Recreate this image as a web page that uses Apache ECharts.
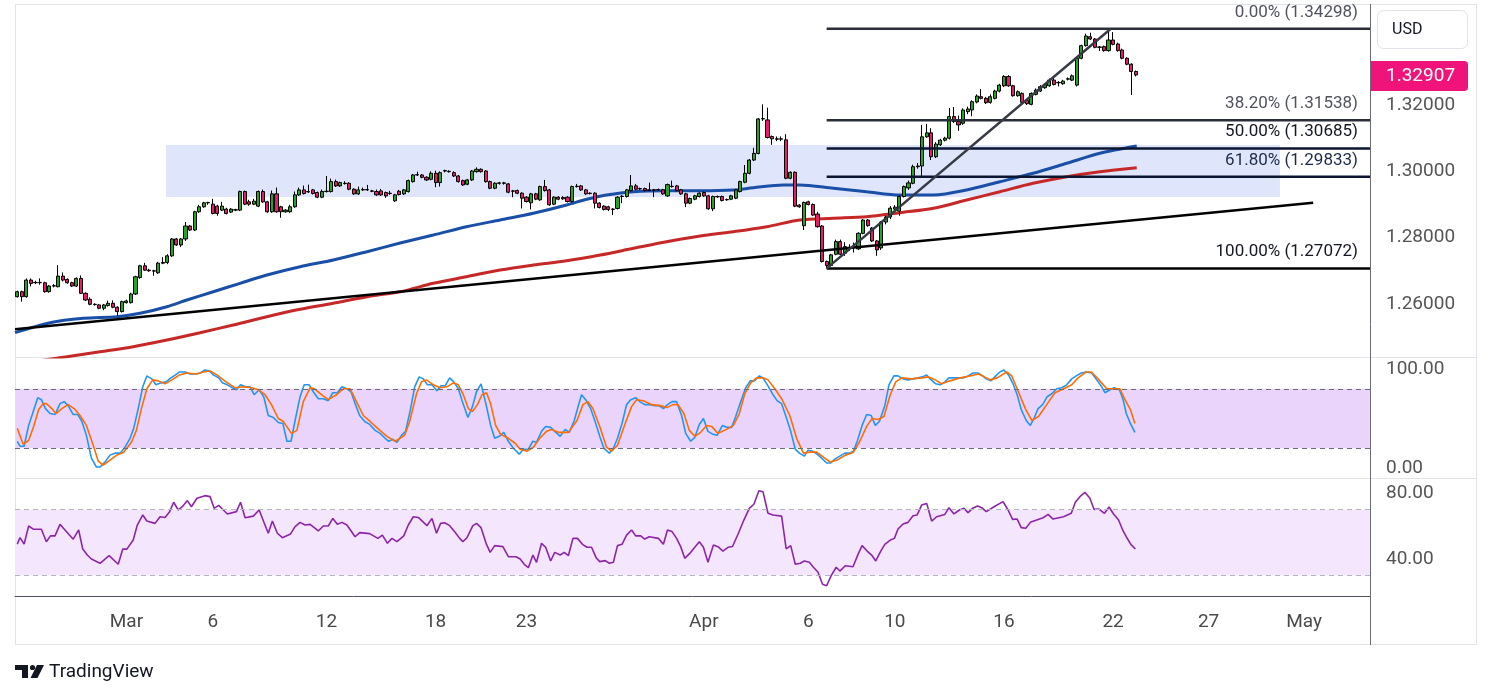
<!DOCTYPE html>
<html>
<head>
<meta charset="utf-8">
<title>GBP/USD 4H</title>
<script src="https://cdn.jsdelivr.net/npm/echarts@6.0.0/dist/echarts.min.js"></script>
<style>
  html, body { margin: 0; padding: 0; background: #fff; }
  #chart { width: 1491px; height: 698px; }
</style>
</head>
<body>
<div id="chart"></div>
<script>
// ---- candles (4H bars) ----
var opens = [
  1.2622,1.2637,1.2622,1.2672,1.2664,1.2665,1.2664,1.2637,1.2654,1.2652,
  1.2684,1.2674,1.2664,1.2654,1.2677,1.2632,1.2614,1.2599,1.2597,1.2587,
  1.2595,1.2602,1.2590,1.2577,1.2604,1.2604,1.2630,1.2680,1.2715,1.2702,
  1.2700,1.2694,1.2723,1.2725,1.2745,1.2796,1.2778,1.2796,1.2835,1.2823,
  1.2878,1.2893,1.2905,1.2901,1.2895,1.2883,1.2886,1.2877,1.2883,1.2883,
  1.2939,1.2908,1.2901,1.2895,1.2939,1.2908,1.2878,1.2932,1.2893,1.2878,
  1.2878,1.2893,1.2929,1.2944,1.2939,1.2944,1.2936,1.2922,1.2939,1.2939,
  1.2969,1.2956,1.2964,1.2964,1.2946,1.2932,1.2944,1.2945,1.2941,1.2939,
  1.2941,1.2936,1.2934,1.2911,1.2940,1.2932,1.2939,1.2969,1.2989,1.2989,
  1.2982,1.2976,1.2994,1.2966,1.3001,1.3000,1.2996,1.2986,1.2972,1.2961,
  1.2974,1.2999,1.3006,1.3001,1.2969,1.2949,1.2964,1.2965,1.2962,1.2941,
  1.2942,1.2934,1.2922,1.2905,1.2932,1.2914,1.2954,1.2944,1.2901,1.2922,
  1.2917,1.2922,1.2909,1.2954,1.2956,1.2944,1.2934,1.2934,1.2904,1.2895,
  1.2893,1.2885,1.2888,1.2924,1.2924,1.2942,1.2956,1.2948,1.2948,1.2944,
  1.2943,1.2944,1.2944,1.2926,1.2955,1.2956,1.2944,1.2932,1.2904,1.2916,
  1.2924,1.2936,1.2926,1.2887,1.2924,1.2924,1.2914,1.2916,1.2919,1.2939,
  1.2967,1.2994,1.3034,1.3054,1.3158,1.3155,1.3105,1.3098,1.3097,1.3095,
  1.2979,1.2997,1.2898,1.2836,1.2908,1.2900,1.2871,1.2835,1.2728,1.2716,
  1.2750,1.2788,1.2753,1.2768,1.2773,1.2766,1.2813,1.2853,1.2829,1.2790,
  1.2769,1.2847,1.2862,1.2886,1.2880,1.2924,1.2950,1.2964,1.3014,1.3016,
  1.3104,1.3116,1.3044,1.3080,1.3094,1.3100,1.3165,1.3150,1.3145,1.3180,
  1.3185,1.3209,1.3225,1.3220,1.3208,1.3220,1.3242,1.3258,1.3286,1.3258,
  1.3228,1.3235,1.3214,1.3202,1.3232,1.3242,1.3252,1.3258,1.3275,1.3268,
  1.3264,1.3278,1.3275,1.3260,1.3341,1.3379,1.3406,1.3399,1.3374,1.3376,
  1.3364,1.3396,1.3384,1.3366,1.3341,1.3323,1.3301
];
var highs = [
  1.2640,1.2640,1.2677,1.2677,1.2670,1.2677,1.2667,1.2657,1.2660,1.2717,
  1.2695,1.2677,1.2667,1.2680,1.2686,1.2635,1.2620,1.2602,1.2600,1.2600,
  1.2610,1.2611,1.2593,1.2610,1.2613,1.2634,1.2685,1.2718,1.2724,1.2706,
  1.2703,1.2727,1.2741,1.2750,1.2799,1.2799,1.2799,1.2847,1.2838,1.2881,
  1.2899,1.2908,1.2908,1.2917,1.2899,1.2908,1.2890,1.2889,1.2887,1.2942,
  1.2942,1.2914,1.2917,1.2942,1.2945,1.2911,1.2942,1.2951,1.2896,1.2886,
  1.2899,1.2939,1.2951,1.2957,1.2960,1.2947,1.2939,1.2945,1.2986,1.2978,
  1.2975,1.2969,1.2970,1.2967,1.2949,1.2954,1.2951,1.2959,1.2944,1.2945,
  1.2947,1.2939,1.2941,1.2932,1.2944,1.2947,1.2975,1.2992,1.2999,1.2992,
  1.2985,1.3000,1.3002,1.3000,1.3005,1.3003,1.3000,1.2989,1.2975,1.2977,
  1.3004,1.3012,1.3009,1.3004,1.2972,1.2967,1.2968,1.2968,1.2965,1.2944,
  1.2945,1.2937,1.2925,1.2935,1.2935,1.2957,1.2974,1.2947,1.2925,1.2925,
  1.2925,1.2925,1.2957,1.2962,1.2959,1.2947,1.2937,1.2937,1.2907,1.2898,
  1.2896,1.2889,1.2925,1.2928,1.2947,1.2989,1.2962,1.2951,1.2951,1.2966,
  1.2947,1.2948,1.2947,1.2963,1.2972,1.2959,1.2947,1.2935,1.2921,1.2929,
  1.2937,1.2939,1.2929,1.2927,1.2927,1.2927,1.2918,1.2929,1.2947,1.2972,
  1.3019,1.3037,1.3071,1.3161,1.3202,1.3192,1.3108,1.3105,1.3105,1.3112,
  1.3000,1.3000,1.2901,1.2909,1.2911,1.2903,1.2878,1.2838,1.2731,1.2751,
  1.2794,1.2794,1.2786,1.2780,1.2785,1.2816,1.2856,1.2856,1.2832,1.2793,
  1.2850,1.2866,1.2895,1.2898,1.2928,1.2957,1.2972,1.3020,1.3025,1.3140,
  1.3143,1.3130,1.3088,1.3098,1.3104,1.3191,1.3194,1.3168,1.3190,1.3195,
  1.3214,1.3232,1.3248,1.3224,1.3232,1.3246,1.3264,1.3290,1.3290,1.3261,
  1.3244,1.3238,1.3218,1.3238,1.3250,1.3260,1.3266,1.3280,1.3282,1.3272,
  1.3276,1.3283,1.3292,1.3344,1.3382,1.3415,1.3418,1.3402,1.3378,1.3379,
  1.342984,1.3420,1.3388,1.3370,1.3344,1.3326,1.3304
];
var lows = [
  1.2619,1.2607,1.2619,1.2653,1.2660,1.2658,1.2634,1.2634,1.2650,1.2650,
  1.2668,1.2661,1.2651,1.2651,1.2630,1.2609,1.2596,1.2595,1.2584,1.2581,
  1.2592,1.2587,1.2564,1.2574,1.2601,1.2601,1.2627,1.2676,1.2700,1.2697,
  1.2685,1.2691,1.2720,1.2720,1.2742,1.2775,1.2772,1.2790,1.2820,1.2820,
  1.2875,1.2890,1.2899,1.2870,1.2866,1.2880,1.2870,1.2874,1.2880,1.2880,
  1.2898,1.2896,1.2898,1.2892,1.2905,1.2875,1.2875,1.2875,1.2860,1.2875,
  1.2875,1.2890,1.2926,1.2930,1.2935,1.2930,1.2919,1.2919,1.2936,1.2936,
  1.2953,1.2953,1.2960,1.2943,1.2929,1.2929,1.2941,1.2941,1.2937,1.2926,
  1.2926,1.2920,1.2929,1.2908,1.2927,1.2929,1.2936,1.2966,1.2986,1.2979,
  1.2971,1.2973,1.2952,1.2954,1.2997,1.2996,1.2983,1.2966,1.2956,1.2958,
  1.2971,1.2996,1.2996,1.2966,1.2946,1.2946,1.2960,1.2960,1.2934,1.2922,
  1.2931,1.2888,1.2906,1.2885,1.2913,1.2911,1.2939,1.2896,1.2898,1.2913,
  1.2914,1.2906,1.2906,1.2951,1.2941,1.2929,1.2930,1.2888,1.2888,1.2882,
  1.2880,1.2868,1.2885,1.2904,1.2921,1.2939,1.2943,1.2944,1.2939,1.2940,
  1.2922,1.2941,1.2929,1.2923,1.2951,1.2939,1.2929,1.2892,1.2901,1.2913,
  1.2921,1.2923,1.2884,1.2880,1.2920,1.2909,1.2911,1.2913,1.2916,1.2936,
  1.2964,1.2991,1.3031,1.3051,1.3152,1.3099,1.3080,1.3091,1.3091,1.2976,
  1.2976,1.2892,1.2890,1.2823,1.2897,1.2865,1.2830,1.2725,1.270723,1.2713,
  1.2747,1.2747,1.2745,1.2760,1.2755,1.2763,1.2810,1.2833,1.2787,1.2745,
  1.2763,1.2840,1.2856,1.2878,1.2866,1.2921,1.2944,1.2961,1.3008,1.2986,
  1.3101,1.3034,1.3040,1.3076,1.3090,1.3096,1.3146,1.3122,1.3140,1.3172,
  1.3166,1.3205,1.3217,1.3203,1.3204,1.3217,1.3238,1.3254,1.3255,1.3225,
  1.3225,1.3204,1.3200,1.3199,1.3229,1.3239,1.3249,1.3255,1.3259,1.3256,
  1.3261,1.3274,1.3272,1.3256,1.3338,1.3376,1.3396,1.3371,1.3363,1.3361,
  1.3361,1.3380,1.3361,1.3338,1.3320,1.3230,1.3286
];
var closes = [
  1.2637,1.2622,1.2672,1.2662,1.2665,1.2664,1.2637,1.2654,1.2655,1.2684,
  1.2672,1.2664,1.2654,1.2677,1.2632,1.2612,1.2599,1.2598,1.2587,1.2597,
  1.2602,1.2590,1.2577,1.2607,1.2609,1.2630,1.2682,1.2715,1.2702,1.2700,
  1.2699,1.2723,1.2725,1.2745,1.2796,1.2778,1.2796,1.2835,1.2823,1.2878,
  1.2893,1.2905,1.2906,1.2873,1.2873,1.2895,1.2873,1.2886,1.2884,1.2939,
  1.2901,1.2901,1.2910,1.2939,1.2908,1.2878,1.2932,1.2878,1.2878,1.2883,
  1.2893,1.2929,1.2944,1.2933,1.2938,1.2933,1.2922,1.2939,1.2940,1.2969,
  1.2956,1.2966,1.2963,1.2946,1.2932,1.2944,1.2945,1.2944,1.2940,1.2929,
  1.2929,1.2926,1.2933,1.2929,1.2930,1.2944,1.2972,1.2989,1.2990,1.2982,
  1.2974,1.2994,1.2966,1.2996,1.3002,1.2999,1.2986,1.2969,1.2959,1.2974,
  1.3001,1.3006,1.2999,1.2969,1.2949,1.2964,1.2965,1.2964,1.2937,1.2940,
  1.2934,1.2919,1.2909,1.2932,1.2916,1.2954,1.2942,1.2899,1.2922,1.2916,
  1.2921,1.2909,1.2954,1.2955,1.2944,1.2932,1.2933,1.2904,1.2891,1.2885,
  1.2885,1.2886,1.2922,1.2925,1.2944,1.2956,1.2946,1.2947,1.2942,1.2943,
  1.2944,1.2945,1.2932,1.2960,1.2954,1.2942,1.2932,1.2904,1.2918,1.2926,
  1.2934,1.2926,1.2887,1.2924,1.2923,1.2912,1.2915,1.2926,1.2944,1.2969,
  1.2994,1.3034,1.3054,1.3158,1.3159,1.3102,1.3098,1.3097,1.3098,1.2979,
  1.2997,1.2895,1.2893,1.2906,1.2900,1.2868,1.2833,1.2728,1.2716,1.2748,
  1.2788,1.2750,1.2773,1.2769,1.2774,1.2813,1.2853,1.2836,1.2790,1.2763,
  1.2847,1.2862,1.2889,1.2892,1.2924,1.2954,1.2965,1.3014,1.3016,1.3104,
  1.3116,1.3044,1.3082,1.3094,1.3100,1.3165,1.3150,1.3140,1.3185,1.3188,
  1.3210,1.3227,1.3220,1.3207,1.3225,1.3242,1.3260,1.3286,1.3258,1.3228,
  1.3240,1.3208,1.3204,1.3235,1.3245,1.3255,1.3262,1.3275,1.3262,1.3267,
  1.3272,1.3279,1.3288,1.3341,1.3379,1.3408,1.3399,1.3374,1.3375,1.3364,
  1.3396,1.3383,1.3364,1.3341,1.3323,1.3301,1.32907
];

// bar slots on the time axis (traded bars plus empty space to the right)
var slotCount = 298;
var tickLabels = [[24,'Mar'],[43,'6'],[68,'12'],[92,'18'],[112,'23'],[151,'Apr'],
                  [174,'6'],[193,'10'],[217,'16'],[241,'22'],[262,'27'],[283,'May']];

// moving averages [bar, price]
var blueMA = [[-0.5,1.25133],[7.2,1.25434],[14.5,1.25567],[21.9,1.25615],[27,1.25718],[32.9,1.25917],
  [37.3,1.26119],[43.1,1.26369],[49,1.26622],[54.9,1.26873],[62.2,1.27123],[69.5,1.27325],[76.9,1.27576],
  [84.2,1.27838],[91.5,1.28079],[98.8,1.2833],[106.2,1.28532],[113.5,1.28733],[120.8,1.28984],[125.2,1.29156],
  [129.6,1.29286],[135.5,1.29385],[142.8,1.29415],[150.2,1.29415],[157.5,1.29437],[161.9,1.29506],[168.5,1.29587],
  [172.1,1.29587],[179.5,1.29487],[186.8,1.29385],[194.1,1.29286],[201.5,1.29286],[208.8,1.29437],[216.1,1.29687],
  [223.4,1.2994],[230.8,1.30242],[238.1,1.30543],[246.2,1.30763]];
var redMA = [[-0.5,1.2418],[10.9,1.24409],[18.2,1.2456],[25.5,1.24711],[32.9,1.24912],[40.2,1.25133],
  [47.5,1.25365],[54.9,1.25615],[62.2,1.25838],[69.5,1.26019],[76.9,1.26218],[84.2,1.26369],[91.5,1.26622],
  [98.8,1.26822],[106.2,1.27024],[113.5,1.27174],[120.8,1.27304],[128.2,1.27476],[135.5,1.27678],[142.8,1.27877],
  [150.2,1.28049],[157.5,1.28179],[164.8,1.2833],[172.1,1.28532],[179.5,1.28583],[186.8,1.28631],[194.1,1.28752],
  [201.5,1.28885],[208.8,1.29135],[216.1,1.29385],[223.4,1.29638],[230.8,1.29838],[238.1,1.29988],[246.2,1.30109]];

// drawings
var trendLine = [[-0.5,1.25235],[285,1.29053]];
var fibLow = [178, 1.270723];
var fibHigh = [240.5, 1.342984];
var fibLevels = [0, 0.382, 0.5, 0.618, 1];
var zone = [[32.7, 1.30794], [277.7, 1.29225]];
var lastPrice = 1.32907;

// stochastic %K / %D  [bar, value]
var stochK = [
[0,27],[0.6,22],[1.5,22],[2.5,43],[3.3,54],[4.5,71],[5.3,69],[6.2,60],[7.2,55],[8.3,54],
[9.4,65],[10.3,67],[11.2,63],[12.3,54],[13.3,54],[14.2,47],[15.2,33],[16.3,10],[17.4,1],[18.2,1],
[19.3,6],[20.4,13],[21.5,15],[22.6,15],[23.7,21],[24.8,30],[25.6,40],[26.6,60],[27.6,82],[28.5,93],
[29.6,90],[30.5,84],[31.6,86],[32.7,87],[33.8,91],[34.8,94],[35.7,97],[36.9,97],[38,95],[39.1,95],
[40.2,96],[41.3,99],[42.3,98],[43.1,94],[44.3,91],[45.1,86],[46.2,84],[47.3,81],[48.2,79],[49.1,84],
[50.2,82],[51.2,82],[52.1,74],[53.2,79],[54.2,72],[55.2,53],[56.3,51],[57.4,46],[58.4,45],[59.3,27],
[60.2,27],[61.1,48],[62.2,72],[63.1,84],[64.2,84],[65.1,77],[66.2,70],[67.3,70],[68.4,68],[69.4,76],
[70.4,76],[71.4,82],[72.5,80],[73.4,77],[74.3,65],[75.3,53],[76.4,47],[77.5,44],[78.7,38],[79.8,35],
[80.9,30],[81.7,27],[82.6,29],[83.5,26],[84.5,33],[85.4,37],[86.5,60],[87.4,82],[88.4,92],[89.3,90],
[90.2,84],[91.2,84],[92.3,78],[93.2,83],[94.1,83],[95.1,91],[96,87],[97,80],[97.9,67],[99.1,51],
[100.1,62],[101,77],[102,85],[103.1,64],[104.1,43],[105,30],[106,32],[107,36],[108,27],[109.1,20],
[110.4,14],[111.3,19],[112.4,19],[113.4,27],[114.2,26],[115.3,37],[116.2,42],[117.3,41],[118.2,37],[119.4,32],
[120.5,39],[121.4,36],[122.5,48],[123.4,63],[124.1,74],[125,69],[126.1,60],[127,48],[128.1,32],[129,20],
[130.2,15],[131.1,20],[132,30],[133,45],[134,64],[134.9,69],[136,71],[136.9,67],[138,64],[139.1,64],
[140.2,63],[141.1,63],[142.1,60],[143,64],[144,67],[145,67],[146.1,53],[147,35],[148.1,27],[149,31],
[150,44],[150.9,50],[151.9,37],[153,34],[153.9,33],[155.1,43],[156.1,41],[157.1,41],[158,52],[159.1,67],
[160.2,81],[161.2,88],[162.1,88],[163.2,93],[164,91],[165.1,83],[166.2,74],[167.1,68],[168.1,65],[169.2,50],
[170.1,37],[171.1,19],[172,15],[173.1,12],[173.9,18],[174.9,17],[175.9,14],[176.9,10],[178,5],[178.9,5],
[179.8,9],[180.9,12],[182,15],[183.1,15],[183.9,17],[184.8,28],[185.8,43],[186.8,54],[187.8,53],[188.7,43],
[189.6,47],[190.8,63],[191.7,84],[192.8,93],[193.7,93],[194.8,90],[195.9,89],[197,90],[198.1,91],[199.1,92],
[200,94],[201,89],[202,85],[203,84],[204,87],[204.9,91],[206,91],[206.9,91],[208,91],[209.1,93],
[210.2,96],[211.3,96],[212.3,93],[213.1,90],[214.1,88],[215.2,93],[216.1,97],[217,99],[218,94],[219,85],
[219.9,74],[220.8,59],[221.9,48],[222.8,43],[223.6,50],[224.5,60],[225.5,64],[226.5,72],[227.5,75],[228.6,80],
[229.7,81],[230.8,84],[231.9,90],[232.9,93],[234,96],[235.1,97],[236.3,96],[237.4,89],[238.5,82],[239.2,76],
[240.3,79],[241.2,81],[242.4,79],[243.2,69],[243.9,55],[244.8,45],[245.8,36]
];
var stochD = [
[0,40],[1.3,24],[2.5,28],[3.6,42],[4.7,59],[5.7,65],[6.4,65],[7.6,60],[8.5,55],[9.8,60],
[11.2,64],[12.5,60],[13.8,53],[15.2,43],[16.7,23],[17.8,7],[18.9,3],[20.4,8],[21.9,13],[23.4,16],
[25.1,26],[26.2,38],[27.3,60],[28.5,80],[29.8,89],[31,88],[32.5,85],[34,89],[35.7,94],[37.2,96],
[39.5,95],[40.9,97],[42.4,98],[43.9,94],[45.6,88],[47.9,81],[49.7,82],[51.6,81],[53,79],[54.5,74],
[55.9,64],[57.4,50],[58.5,47],[60.3,35],[61.5,38],[62.9,67],[64.4,81],[65.4,80],[66.9,74],[68.4,69],
[70.2,74],[71.7,80],[73.2,80],[74.6,67],[76.1,53],[77.6,47],[79,41],[81.3,32],[83.1,27],[85.2,33],
[86.3,47],[87.8,75],[88.9,87],[90,89],[91.5,84],[93,81],[94.5,82],[95.9,86],[97,84],[98.1,74],
[99.2,60],[100.1,57],[101.2,64],[102.2,74],[103.2,76],[104.1,65],[105.2,43],[106.3,34],[108,30],[109.5,25],
[110.6,19],[112.1,17],[113.5,21],[114.9,30],[116.4,37],[117.5,39],[119,36],[121.2,36],[123.1,48],[124.4,64],
[125.5,67],[126.6,60],[128.1,42],[129.6,21],[130.7,17],[132,23],[133.7,45],[135.1,62],[136.2,69],[137.7,68],
[139.5,64],[141.4,63],[142.9,61],[144.2,64],[145.3,64],[146.6,55],[147.8,38],[149,32],[150.3,36],[151.6,43],
[152.7,42],[154.1,35],[156,39],[157.5,43],[158.8,55],[160,75],[161.3,86],[162.6,91],[164.1,91],[165.1,89],
[166.6,80],[168.1,70],[169.9,53],[171.4,30],[172.9,15],[174.3,16],[175.8,16],[177.3,11],[178.8,6],[180.3,8],
[182.1,13],[183.9,16],[185.3,27],[186.8,42],[188,50],[189.4,49],[190.6,52],[192,74],[193.2,87],[194.5,91],
[196.7,90],[198.9,91],[200.4,92],[201.9,89],[203.3,85],[205.1,88],[207.3,91],[209.5,93],[211.4,95],[212.7,92],
[214,89],[215.5,91],[217.6,97],[218.7,93],[219.9,80],[221.7,60],[223.1,48],[224.6,52],[226.4,64],[228.2,76],
[229.7,79],[231.9,84],[233.3,91],[235.1,97],[236.2,97],[237.7,90],[239.6,80],[241.4,80],[242.5,80],[243.5,70],
[244.8,59],[245.8,45]
];

// RSI [bar, value]
var rsi = [
[0,49],[0.6,53],[1.5,49],[2.5,60],[3.6,58],[5.3,58],[6.4,50.5],[7.3,54],[8.3,54],[9.4,61],
[10.5,57.6],[12.3,52],[13.5,57.6],[14.4,46],[15.4,42.4],[16.3,40],[18.2,37.4],[20.2,42],[22.2,36.8],[23.2,46],
[24.1,46],[25.5,51.5],[26.4,60.6],[27.6,66.7],[28.5,63],[30.3,61.6],[31.4,65.6],[32.5,65.2],[33.5,68.7],[34.4,74.4],
[35.4,69.7],[36.3,71.7],[37.4,75.4],[38.3,71.7],[39.5,76.8],[41.3,78.4],[42.4,77.8],[43.3,70.7],[44.3,72.5],[45.1,70.3],
[46.2,67.3],[48.2,68.7],[49.1,74.4],[50.1,65],[51.9,66],[53.2,69.7],[54.2,62.6],[55.2,55.6],[56.1,63],[57.2,55.6],
[58.3,52.9],[60.1,55.2],[61.1,59.6],[62.2,62.2],[63.3,60.6],[64.4,61],[66.2,57],[67.3,60],[68.4,60],[69.4,64.6],
[70.4,61],[71.4,62.2],[72.5,60.6],[74.3,53.5],[75.3,56],[77.5,55.4],[79.3,52.5],[80.3,54.5],[81.4,49.5],[82.4,52.5],
[83.5,50.5],[85,54],[86,60.6],[87.1,65.6],[88.2,65.2],[90.1,60.2],[91.2,64.6],[92.2,55.6],[93.1,61.6],[94,62],
[95.1,60.2],[96.2,56.5],[97.3,52.5],[98,50.5],[98.9,52.9],[100.2,60.2],[101,61.6],[102,59],[103.1,49.5],[104,44],
[105,48.1],[106.8,47.5],[108,41.4],[109.7,41.4],[110.6,40],[111.5,36.8],[112.4,34.7],[113.4,42.4],[114.2,38],[115.3,49.5],
[116.2,47.1],[117.3,38.8],[118.2,44],[119.4,42.4],[120.3,44],[121.2,42],[122.2,52.5],[123.2,52.5],[124.3,48.9],[125.3,47.1],
[126.3,47.1],[127.3,40.8],[128.1,38.4],[129.3,39],[130.2,37.4],[131.1,38],[132,48.1],[133,48.9],[134,54.5],[135.1,57.6],
[136,54],[137.1,54],[138,52.1],[139,53.5],[141,52.5],[142.1,48.9],[143,57.6],[144,56.6],[145,52.5],[145.9,47.5],
[146.8,40.4],[147.9,43.4],[149,47.1],[150,50.5],[150.9,47.1],[151.9,38],[153.1,48.5],[154.1,47.5],[155.2,44.8],[156.3,47.1],
[157.3,47.6],[158.6,55.6],[159.8,63.6],[161,70.7],[162,73.2],[163.1,81.4],[164,80.8],[165.1,67.7],[166.2,66.7],[168.1,66],
[169.1,46.1],[170.1,48.1],[171.1,36.8],[172.2,37.4],[173.1,38.8],[174.2,38],[175,35.3],[176.1,32],[177.1,24.7],[178,23.8],
[179,29.9],[180.1,35],[180.9,32.7],[182.1,35.9],[183.8,35.3],[184.9,42.8],[185.8,48.1],[186.9,44.8],[187.9,42.4],[188.8,38.8],
[189.9,44.8],[190.8,48.9],[192,51.5],[192.9,52.5],[193.7,58.2],[194.8,61.2],[195.9,62.2],[197,66.2],[197.9,66.7],[198.9,72.7],
[200,73.7],[201.1,63],[202.2,65.6],[204,67],[204.9,71.1],[206,67.3],[207.2,69.7],[208.2,70.7],[209.1,68.1],[210.1,70.7],
[211.2,72.1],[212.1,71.1],[213.1,68.7],[215,72],[216.8,74.8],[217.9,69.7],[218.9,64],[219.9,64.2],[220.8,59],[221.8,58.6],
[222.8,62.2],[225.6,65],[226.7,67],[227.8,64.2],[230.1,65.6],[231.8,67.7],[232.7,74.4],[233.7,77.8],[234.8,80.4],[235.9,76.8],
[236.8,70.1],[237.9,70.3],[239.1,67.7],[240.1,71.5],[241.1,67.3],[242.2,63.6],[243.2,57],[243.9,53.5],[244.9,48.9],[245.9,46.1]
];

// ---- chart ----
var FONT = 'Roboto, "Liberation Sans", sans-serif';
var chart = echarts.init(document.getElementById('chart'));

var candles = opens.map(function (o, i) { return [o, closes[i], lows[i], highs[i]]; });
var categories = [];
for (var i = 0; i < slotCount; i++) categories.push(String(i));
var labelAt = {};
tickLabels.forEach(function (t) { labelAt[t[0]] = t[1]; });

var fibRange = fibHigh[1] - fibLow[1];
var fibPrices = fibLevels.map(function (l) { return fibHigh[1] - l * fibRange; });
var fibLineColors = ['#2a2e39', '#2a2e39', '#0b1530', '#0b1530', '#000000'];
var fibTextColors = ['#50535e', '#50535e', '#131722', '#1c2a48', '#131722'];

var grids = [
  { left: 15, width: 1355, top: 4, height: 353 },
  { left: 15, width: 1355, top: 357, height: 121 },
  { left: 15, width: 1355, top: 478, height: 118 }
].map(function (g) { g.containLabel = false; g.outerBoundsMode = 'none'; return g; });

function catAxis(gi, show) {
  return {
    type: 'category', gridIndex: gi, data: categories, boundaryGap: true,
    show: show,
    axisLine: { show: show, lineStyle: { color: '#50535e', width: 1 } },
    axisTick: { show: false },
    splitLine: { show: false },
    axisLabel: {
      show: show, color: '#4a4a4a', fontSize: 19, fontFamily: FONT, margin: 17,
      interval: function (idx) { return labelAt[idx] !== undefined; },
      formatter: function (v, idx) { return labelAt[idx] || ''; }
    }
  };
}
function valAxis(gi) {
  return { type: 'value', gridIndex: gi, min: -0.5, max: slotCount - 0.5, show: false };
}
function rightAxis(gi, min, max, ticks, digits) {
  return {
    type: 'value', gridIndex: gi, position: 'right', min: min, max: max,
    splitLine: { show: false }, axisLine: { show: false }, axisTick: { show: false },
    axisLabel: {
      customValues: ticks, color: '#555', fontSize: 19, fontFamily: FONT, margin: 16,
      formatter: function (v) { return v.toFixed(digits); }
    }
  };
}

function lineSeries(data, xi, yi, color, width, extra) {
  var s = {
    type: 'line', xAxisIndex: xi, yAxisIndex: yi, data: data, symbol: 'none',
    silent: true, clip: true, lineStyle: { color: color, width: width }, z: 4
  };
  for (var k in extra) s[k] = extra[k];
  return s;
}

var series = [];
// blue zone
series.push({
  type: 'line', xAxisIndex: 3, yAxisIndex: 0, data: zone, symbol: 'none', silent: true,
  lineStyle: { opacity: 0 }, z: 1,
  markArea: {
    silent: true, itemStyle: { color: '#dfe6fb' },
    data: [[{ coord: zone[0] }, { coord: zone[1] }]]
  }
});
series.push(lineSeries(redMA, 3, 0, '#c62828', 3, { smooth: 0.3, z: 2 }));
series.push(lineSeries(blueMA, 3, 0, '#1a4fa8', 3, { smooth: 0.3, z: 2 }));
series.push({
  type: 'candlestick', xAxisIndex: 0, yAxisIndex: 0, data: candles, barWidth: 3.6, z: 3,
  silent: true,
  itemStyle: {
    color: '#22a722', color0: '#ea1a6a',
    borderColor: '#000', borderColor0: '#000', borderColorDoji: '#000', borderWidth: 1
  }
});
series.push(lineSeries(trendLine, 3, 0, '#000', 2.5, {}));
fibPrices.forEach(function (p, k) {
  series.push(lineSeries([[fibLow[0], p], [slotCount - 0.5, p]], 3, 0, fibLineColors[k], 2.5, {}));
});
series.push(lineSeries([fibLow, fibHigh], 3, 0, '#363a45', 2.5, {}));

// stochastic
series.push(lineSeries(stochK, 4, 1, '#2196f3', 1.6, {
  markArea: { silent: true, itemStyle: { color: '#ebd4fc' }, data: [[{ yAxis: 20 }, { yAxis: 80 }]] },
  markLine: {
    silent: true, symbol: ['none', 'none'], label: { show: false },
    lineStyle: { color: '#6a6d78', type: [5, 4], width: 1 },
    data: [{ yAxis: 80 }, { yAxis: 20 }]
  }
}));
series.push(lineSeries(stochD, 4, 1, '#ff6d00', 1.6, {}));

// RSI
series.push(lineSeries(rsi, 5, 2, '#8e24aa', 1.6, {
  markArea: { silent: true, itemStyle: { color: '#f4e7fd' }, data: [[{ yAxis: 30 }, { yAxis: 70 }]] },
  markLine: {
    silent: true, symbol: ['none', 'none'], label: { show: false },
    lineStyle: { color: '#b2b5be', type: [5, 4], width: 1 },
    data: [{ yAxis: 70 }, { yAxis: 30 }]
  }
}));

chart.setOption({
  animation: false,
  backgroundColor: '#fff',
  textStyle: { fontFamily: FONT },
  grid: grids,
  xAxis: [catAxis(0, false), catAxis(1, false), catAxis(2, true), valAxis(0), valAxis(1), valAxis(2)],
  yAxis: [
    rightAxis(0, 1.24400, 1.35046, [1.26, 1.28, 1.30, 1.32], 5),
    rightAxis(1, -10.1, 112.1, [0, 100], 2),
    rightAxis(2, 17.58, 89.09, [40, 80], 2)
  ],
  series: series
});

// ---- overlays: frame, separators, labels, tags ----
var g = [];
g.push({ type: 'rect', silent: true, z: 0, shape: { x: 15.5, y: 4.5, width: 1461, height: 640 },
  style: { fill: 'none', stroke: '#e0e3eb', lineWidth: 1 } });
[357.5, 478.5].forEach(function (y) {
  g.push({ type: 'line', silent: true, shape: { x1: 15, y1: y, x2: 1476, y2: y },
    style: { stroke: '#e0e3eb', lineWidth: 1 } });
});
g.push({ type: 'line', silent: true, shape: { x1: 1370.5, y1: 4, x2: 1370.5, y2: 645 },
  style: { stroke: '#6a6d78', lineWidth: 1 } });

fibPrices.forEach(function (p, k) {
  var y = chart.convertToPixel({ yAxisIndex: 0 }, p);
  g.push({ type: 'text', silent: true, z: 10, x: 1358, y: y - 16.5,
    style: { text: (fibLevels[k] * 100).toFixed(2) + '% (' + p.toFixed(5) + ')',
      fill: fibTextColors[k], font: '17px ' + FONT, align: 'right', verticalAlign: 'middle' } });
});

// USD box
g.push({ type: 'rect', silent: true, z: 10, shape: { x: 1377.5, y: 10.5, width: 90, height: 38, r: 6 },
  style: { fill: '#fff', stroke: '#e0e3eb', lineWidth: 1 } });
g.push({ type: 'text', silent: true, z: 11, x: 1392, y: 30,
  style: { text: 'USD', fill: '#131722', font: '16px ' + FONT, verticalAlign: 'middle' } });

// last price tag
var lastY = chart.convertToPixel({ yAxisIndex: 0 }, lastPrice);
g.push({ type: 'rect', silent: true, z: 10, shape: { x: 1371, y: lastY - 14, width: 97, height: 30, r: [0, 4, 4, 0] },
  style: { fill: '#f0147a' } });
g.push({ type: 'text', silent: true, z: 11, x: 1386, y: lastY + 1,
  style: { text: lastPrice.toFixed(5), fill: '#fff', font: '19px ' + FONT, verticalAlign: 'middle' } });

// TradingView logo
g.push({ type: 'rect', silent: true, shape: { x: 15, y: 665, width: 13, height: 5 }, style: { fill: '#131722' } });
g.push({ type: 'rect', silent: true, shape: { x: 22, y: 665, width: 6, height: 13 }, style: { fill: '#131722' } });
g.push({ type: 'circle', silent: true, shape: { cx: 32.5, cy: 667.5, r: 2.6 }, style: { fill: '#131722' } });
g.push({ type: 'polygon', silent: true, shape: { points: [[37, 665], [44, 665], [37.5, 678], [30.5, 678]] },
  style: { fill: '#131722' } });
g.push({ type: 'text', silent: true, x: 49, y: 672,
  style: { text: 'TradingView', fill: '#131722', font: '19px ' + FONT, verticalAlign: 'middle' } });

chart.setOption({ graphic: g });
</script>
</body>
</html>
